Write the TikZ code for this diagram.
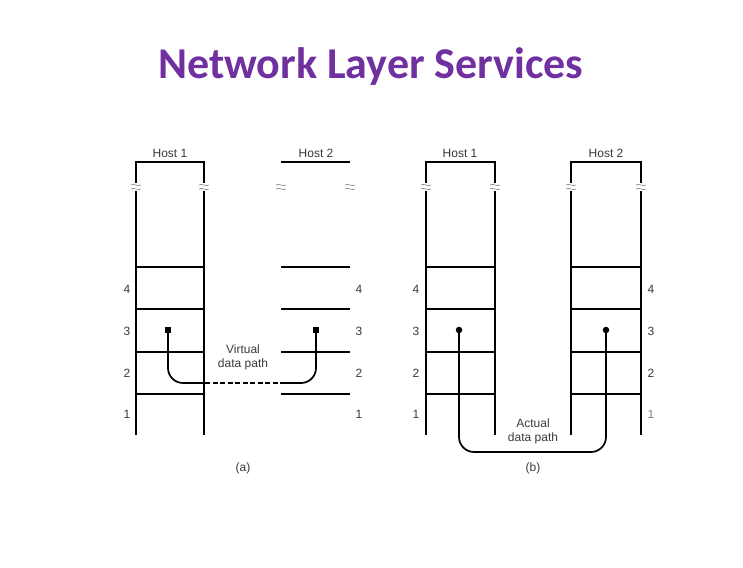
\documentclass[tikz,border=0pt]{standalone}
\usepackage{fontspec}
\setmainfont{Liberation Sans}
\newfontfamily\titlefont{Carlito}
\definecolor{titlepurple}{HTML}{7030A0}
\definecolor{txtgray}{HTML}{3A3A3A}
\begin{document}
\begin{tikzpicture}[x=1pt,y=-1pt,
  frame/.style={line width=1.3pt,black},
  lbl/.style={font=\fontsize{12}{14}\selectfont, text=txtgray, inner sep=0pt, align=center},
  sqdot/.style={rectangle,fill=black,minimum size=6pt,inner sep=0pt},
  rddot/.style={circle,fill=black,minimum size=6.5pt,inner sep=0pt},
  dpath/.style={line width=1.7pt, rounded corners=15pt},
  brk/.style={gray, line width=0.6pt}]
\useasboundingbox (0,0) rectangle (743,567);
\fill[white] (0,0) rectangle (743,567);

% title
\node[font=\titlefont\bfseries\fontsize{44}{48}\selectfont, text=titlepurple] (title) at (371,67) {Network Layer Services};

% ---------- panel (a) ----------
% host 1
\draw[frame] (136,183) -- (136,162) -- (204,162) -- (204,183);
\draw[frame] (136,191) -- (136,435);
\draw[frame] (204,191) -- (204,435);
\foreach \y in {267,309,352,394} \draw[frame] (136,\y) -- (204,\y);
% host 2
\draw[frame] (281,162) -- (350,162);
\foreach \y in {267,309,352,394} \draw[frame] (281,\y) -- (350,\y);
% break marks
\foreach \x in {136,204,281,350,426,495,571,641} {
  \draw[brk] (\x-5,185) .. controls (\x-2,183) and (\x+2,187) .. (\x+5,185);
  \draw[brk] (\x-5,189) .. controls (\x-2,187) and (\x+2,191) .. (\x+5,189);
}
\node[lbl] (ah1) at (170,153) {Host 1};
\node[lbl] (ah2) at (316,153) {Host 2};
\node[lbl] (al4) at (127,289) {4};
\node[lbl] (al3) at (127,331) {3};
\node[lbl] (al2) at (127,373) {2};
\node[lbl] (al1) at (127,414) {1};
\node[lbl] (ar4) at (359,289) {4};
\node[lbl] (ar3) at (359,331) {3};
\node[lbl] (ar2) at (359,373) {2};
\node[lbl] (ar1) at (359,414) {1};
\node[sqdot] (a1) at (168,330) {};
\node[sqdot] (a2) at (316,330) {};
\coordinate (aL) at (205,383);
\coordinate (aR) at (281,383);
\draw[dpath] (a1.center) |- (aL);
\draw[line width=2.4pt, dash pattern=on 5pt off 2.5pt] (aL) -- (aR);
\draw[dpath] (aR) -| (a2.center);
\node[lbl] (vlab) at (243,357) {Virtual\\data path};
\node[lbl] (acap) at (243,468) {(a)};

% ---------- panel (b) ----------
\draw[frame] (426,183) -- (426,162) -- (495,162) -- (495,183);
\draw[frame] (426,191) -- (426,435);
\draw[frame] (495,191) -- (495,435);
\foreach \y in {267,309,352,394} \draw[frame] (426,\y) -- (495,\y);
\draw[frame] (571,183) -- (571,162) -- (641,162) -- (641,183);
\draw[frame] (571,191) -- (571,435);
\draw[frame] (641,191) -- (641,435);
\foreach \y in {267,309,352,394} \draw[frame] (571,\y) -- (641,\y);
\node[lbl] (bh1) at (460,153) {Host 1};
\node[lbl] (bh2) at (606,153) {Host 2};
\node[lbl] (bl4) at (416,289) {4};
\node[lbl] (bl3) at (416,331) {3};
\node[lbl] (bl2) at (416,373) {2};
\node[lbl] (bl1) at (416,414) {1};
\node[lbl] (br4) at (651,289) {4};
\node[lbl] (br3) at (651,331) {3};
\node[lbl] (br2) at (651,373) {2};
\node[lbl, text=gray] (br1) at (651,414) {1};
\node[rddot] (b1) at (459,330) {};
\node[rddot] (b2) at (606,330) {};
\coordinate (bm) at (533,452);
\draw[dpath] (b1.center) |- (bm) -| (b2.center);
\node[lbl] (alab) at (533,431) {Actual\\data path};
\node[lbl] (bcap) at (533,468) {(b)};
\end{tikzpicture}
\end{document}
